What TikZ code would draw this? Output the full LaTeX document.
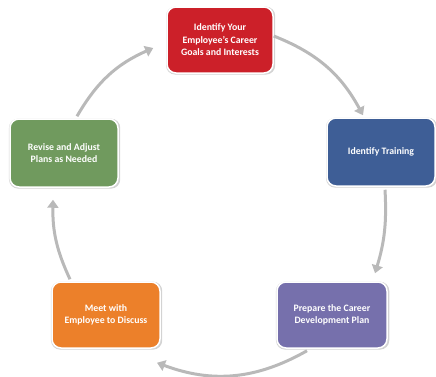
\documentclass[tikz,border=0pt]{standalone}
\usepackage{fontspec}
\setmainfont{Carlito}
\usetikzlibrary{arrows.meta, shadows}

\definecolor{goalred}{RGB}{204,32,41}
\definecolor{trainblue}{RGB}{62,94,150}
\definecolor{planpurple}{RGB}{118,112,172}
\definecolor{meetorange}{RGB}{236,128,42}
\definecolor{revisegreen}{RGB}{112,154,94}

\begin{document}
\begin{tikzpicture}[
    x=1pt, y=1pt,
    every node/.style={font=\fontsize{9.8}{12.5}\selectfont\bfseries},
    stage/.style={rectangle, draw=white, line width=1.5pt, rounded corners=9pt, text=white, align=center,
        minimum width=106pt, minimum height=66pt, inner sep=2pt,
        drop shadow={shadow xshift=0.6pt, shadow yshift=-0.6pt, shadow scale=1.03, opacity=0.35}},
    arrow/.style={draw=gray!55, line width=3pt, -{Triangle[width=11pt, length=8pt]}}
]
\useasboundingbox (0,0) rectangle (436,376);

% Stages of the cycle
\node[stage, fill=goalred] (goals) at (220,336) {Identify Your\\Employee's Career\\Goals and Interests};
\node[stage, fill=trainblue, minimum width=108pt, minimum height=68pt] (training) at (381,224) {Identify Training};
\node[stage, fill=planpurple, minimum width=110pt] (plan) at (332,61) {Prepare the Career\\Development Plan};
\node[stage, fill=meetorange, minimum width=108pt] (meet) at (106,61) {Meet with\\Employee to Discuss};
\node[stage, fill=revisegreen, minimum width=108pt, minimum height=68pt] (revise) at (64,223) {Revise and Adjust\\Plans as Needed};

% Arrows
\draw[arrow] ([yshift=4pt]goals.east) to[bend left=20] ([xshift=-18pt, yshift=2pt]training.north);
\draw[arrow] ([xshift=4pt, yshift=-3pt]training.south) to[bend left=10] ([xshift=43pt, yshift=8pt]plan.north);
\draw[arrow] ([xshift=-25pt, yshift=-2pt]plan.south) to[bend left=25] ([xshift=51pt, yshift=-14pt]meet.south);
\draw[arrow] ([xshift=-36pt, yshift=2pt]meet.north) to[bend left=13] ([xshift=-11pt, yshift=-12pt]revise.south);
\draw[arrow] ([xshift=13pt, yshift=2pt]revise.north) to[bend left=18] ([xshift=-13pt, yshift=-8pt]goals.west);

\end{tikzpicture}
\end{document}
